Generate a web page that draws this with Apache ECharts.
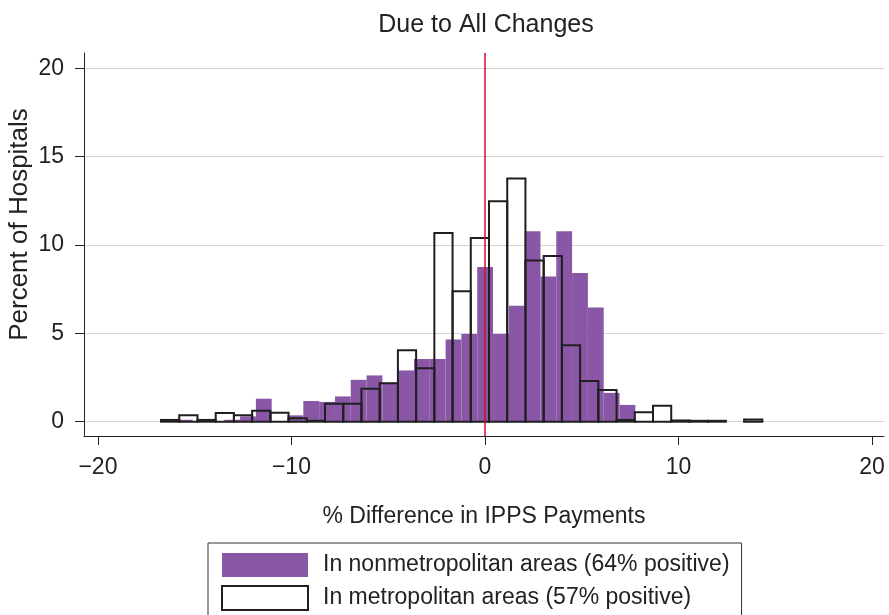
<!DOCTYPE html>
<html>
<head>
<meta charset="utf-8">
<script src="https://cdn.jsdelivr.net/npm/echarts@6/dist/echarts.min.js"></script>
<style>
  html, body { margin: 0; padding: 0; background: #fff; }
  #chart { width: 889px; height: 615px; }
</style>
</head>
<body>
<div id="chart"></div>
<script>
// histogram bins (Stata-style: start at the sample minimum, fixed width)
const nonmetroStart = -16.74
const nonmetroWidth = 0.817
const metroStart = -16.74
const metroWidth = 0.9416

// percent of hospitals in each bin
const nonmetroPct = [
  0.05, 0.11, 0, 0, 0.11, 0.3, 1.3, 0, 0.36, 1.17,
  1.12, 1.43, 2.37, 2.62, 2.2, 2.9, 3.55, 3.55, 4.65, 4.97,
  8.75, 4.97, 6.56, 10.78, 8.22, 10.78, 8.41, 6.47, 1.63, 0.95
]
const metroPct = [
  0.1, 0.36, 0.1, 0.49, 0.36, 0.62, 0.51, 0.2, 0.05, 1.02,
  1.02, 1.86, 2.17, 4.04, 3.03, 10.68, 7.38, 10.4, 12.48, 13.77,
  9.13, 9.38, 4.33, 2.31, 1.8, 0.1, 0.53, 0.9, 0.07, 0.05,
  0.05, 0, 0.13
]

const xTicks = [-20, -10, 0, 10, 20]
const yTicks = [0, 5, 10, 15, 20]

const nonmetroName = 'In nonmetropolitan areas (64% positive)'
const metroName = 'In metropolitan areas (57% positive)'

const FONT = 'Liberation Sans, Arial, Helvetica, sans-serif'
const PURPLE = '#8957a5'

const toBins = (start, width, values) =>
  values.map((v, i) => [start + i * width, start + (i + 1) * width, v])

const makeRender = (styleFn) => (params, api) => {
  const h = api.value(2)
  if (!h) return null
  const p0 = api.coord([api.value(0), h])
  const p1 = api.coord([api.value(1), 0])
  return {
    type: 'rect',
    shape: { x: p0[0], y: p0[1], width: p1[0] - p0[0], height: p1[1] - p0[1] },
    style: styleFn()
  }
}

const chart = echarts.init(document.getElementById('chart'))

const option = {
  animation: false,
  backgroundColor: '#fff',
  title: {
    text: 'Due to All Changes',
    left: 481,
    textAlign: 'center',
    top: 8,
    textStyle: { fontFamily: FONT, fontSize: 25, fontWeight: 'normal', color: '#222' }
  },
  grid: { left: 84, top: 53, width: 800, height: 383, outerBoundsMode: 'none', containLabel: false },
  xAxis: {
    type: 'value',
    min: -20.72,
    max: 20.62,
    name: '% Difference in IPPS Payments',
    nameLocation: 'middle',
    nameGap: 69,
    nameMoveOverlap: false,
    nameTextStyle: { fontFamily: FONT, fontSize: 23, color: '#222' },
    axisLine: { show: true, onZero: false, lineStyle: { color: '#222', width: 1 } },
    axisTick: { show: true, customValues: xTicks, length: 9, lineStyle: { color: '#222' } },
    axisLabel: {
      customValues: xTicks,
      margin: 20,
      fontFamily: FONT, fontSize: 23, color: '#222',
      formatter: v => String(v).replace('-', '\u2212')
    },
    splitLine: { show: false }
  },
  yAxis: {
    type: 'value',
    min: -0.81,
    max: 20.87,
    name: 'Percent of Hospitals',
    nameLocation: 'middle',
    nameGap: 51,
    nameMoveOverlap: false,
    nameTextStyle: { fontFamily: FONT, fontSize: 26, color: '#222', padding: [0, 0, 0, 40] },
    axisLine: { show: true, onZero: false, lineStyle: { color: '#222', width: 1 } },
    axisTick: { show: true, customValues: yTicks, length: 9, lineStyle: { color: '#222' } },
    axisLabel: {
      customValues: yTicks,
      margin: 20,
      fontFamily: FONT, fontSize: 23, color: '#222'
    },
    splitLine: { show: true, lineStyle: { color: '#d4d4d4', width: 1 } }
  },
  legend: {
    orient: 'vertical',
    left: 208,
    top: 543,
    height: 90,
    padding: [10, 12, 20, 13],
    itemWidth: 86,
    itemHeight: 24,
    itemGap: 8,
    borderColor: '#333',
    borderWidth: 1,
    backgroundColor: '#fff',
    selectedMode: false,
    textStyle: { fontFamily: FONT, fontSize: 23, color: '#222', padding: [0, 0, 0, 10] },
    data: [
      { name: nonmetroName, icon: 'rect', itemStyle: { color: PURPLE, borderWidth: 0 } },
      { name: metroName, icon: 'rect', itemStyle: { color: '#fff', borderColor: '#1f1f1f', borderWidth: 2 } }
    ]
  },
  series: [
    {
      name: nonmetroName,
      type: 'custom',
      itemStyle: { color: PURPLE },
      encode: { x: [0, 1], y: 2 },
      renderItem: makeRender(() => ({ fill: PURPLE })),
      data: toBins(nonmetroStart, nonmetroWidth, nonmetroPct),
      z: 2
    },
    {
      name: 'zero line',
      type: 'line',
      data: [],
      markLine: {
        silent: true,
        symbol: 'none',
        label: { show: false },
        lineStyle: { color: '#c8102e', width: 1.5, type: 'solid' },
        data: [{ xAxis: 0 }]
      },
      z: 3
    },
    {
      name: metroName,
      type: 'custom',
      itemStyle: { color: '#fff', borderColor: '#1f1f1f' },
      encode: { x: [0, 1], y: 2 },
      renderItem: makeRender(() => ({ fill: 'none', stroke: '#1f1f1f', lineWidth: 2 })),
      data: toBins(metroStart, metroWidth, metroPct),
      z: 4
    }
  ]
}

chart.setOption(option)
</script>
</body>
</html>
